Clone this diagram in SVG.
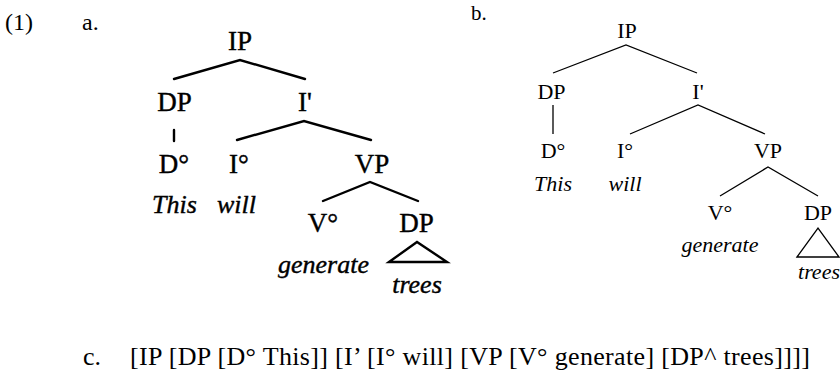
<svg xmlns="http://www.w3.org/2000/svg" width="840" height="373" viewBox="0 0 840 373" font-family="'Liberation Serif', 'Times New Roman', Times, serif">
<style>
text { font-family: "Liberation Serif", "Times New Roman", Times, serif; fill: #000; }
.lab { font-size: 24px; }
.ta { font-size: 27px; text-anchor: middle; stroke: #000; stroke-width: 0.4; }
.it { font-style: italic; }
.ta.it { font-size: 26px; }
.tb { font-size: 22px; text-anchor: middle; }
.ca { stroke: #000; stroke-width: 2.4; fill: none; stroke-linecap: round; }
.cb { stroke: #000; stroke-width: 1.3; fill: none; }
.bl { font-size: 26px; }
</style>
<rect width="840" height="373" fill="#fff"/>
<g id="labels">
  <text class="lab" x="5" y="30">(1)</text>
  <text class="lab" x="82" y="30">a.</text>
  <text class="lab" x="471" y="20" style="font-size:21px">b.</text>
</g>
<g id="tree-a">
  <g id="a-IP"><text class="ta" x="240" y="50">IP</text></g>
  <g id="a-DP"><text class="ta" x="174.5" y="111">DP</text></g>
  <g id="a-Ibar"><text class="ta" x="305" y="111">I'</text></g>
  <g id="a-D0"><text class="ta" x="174" y="173">D°</text></g>
  <g id="a-I0"><text class="ta" x="239" y="173">I°</text></g>
  <g id="a-VP"><text class="ta" x="372" y="173">VP</text></g>
  <g id="a-this"><text class="ta it" x="174.5" y="213">This</text></g>
  <g id="a-will"><text class="ta it" x="236.5" y="213">will</text></g>
  <g id="a-V0"><text class="ta" x="323" y="232">V°</text></g>
  <g id="a-DP2"><text class="ta" x="416.5" y="232">DP</text></g>
  <g id="a-generate"><text class="ta it" x="323.5" y="273">generate</text></g>
  <g id="a-trees"><text class="ta it" x="417" y="293">trees</text></g>
  <g id="a-connectors">
    <path class="ca" d="M174,79 L240,60 L305,79"/>
    <path class="ca" d="M174,130 L174,141"/>
    <path class="ca" d="M237,140 L304,121 L371,140"/>
    <path class="ca" d="M323,201 L370,182 L418,201"/>
    <path class="ca" d="M389,262 L417,242 L447,262 Z" stroke-linejoin="miter"/>
  </g>
</g>
<g id="tree-b">
  <g id="b-IP"><text class="tb" x="627" y="38">IP</text></g>
  <g id="b-DP"><text class="tb" x="551.5" y="99">DP</text></g>
  <g id="b-Ibar"><text class="tb" x="698" y="99">I'</text></g>
  <g id="b-D0"><text class="tb" x="553" y="158">D°</text></g>
  <g id="b-I0"><text class="tb" x="625" y="158">I°</text></g>
  <g id="b-VP"><text class="tb" x="768" y="158">VP</text></g>
  <g id="b-this"><text class="tb it" x="553" y="191">This</text></g>
  <g id="b-will"><text class="tb it" x="625" y="191">will</text></g>
  <g id="b-V0"><text class="tb" x="720" y="220">V°</text></g>
  <g id="b-DP2"><text class="tb" x="818" y="220">DP</text></g>
  <g id="b-generate"><text class="tb it" x="720" y="252">generate</text></g>
  <g id="b-trees"><text class="tb it" x="819" y="279">trees</text></g>
  <g id="b-connectors">
    <path class="cb" d="M553,73 L626,45 L697,73"/>
    <path class="cb" d="M553,105 L553,134"/>
    <path class="cb" d="M630,134 L698,105 L765,134"/>
    <path class="cb" d="M720,196 L768,167 L818,196"/>
    <path class="cb" d="M797,257 L818,228 L839,257 Z"/>
  </g>
</g>
<g id="bracketing">
  <text class="bl" x="83" y="365">c.</text>
  <text class="bl" x="130" y="365" textLength="680" lengthAdjust="spacing">[IP [DP [D° This]] [I’ [I° will] [VP [V° generate] [DP^ trees]]]]</text>
</g>
</svg>
